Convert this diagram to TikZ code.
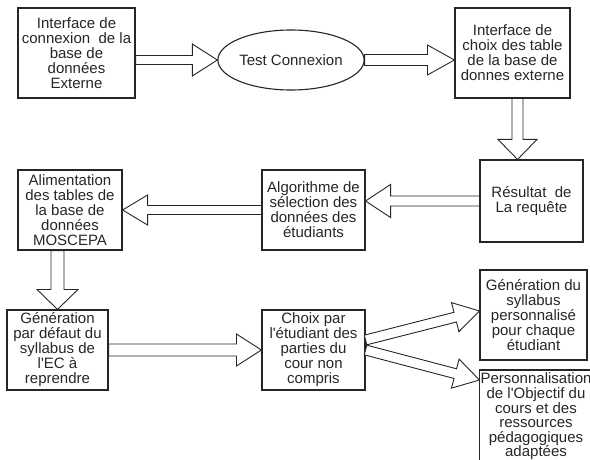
\documentclass[tikz,border=0pt]{standalone}
\usepackage{fontspec}
\setmainfont{Liberation Sans}
\usetikzlibrary{shapes.geometric,calc}

\tikzset{
  stage/.style={draw=black!85, line width=1.1pt, align=center, inner sep=0pt,
    font=\fontsize{15}{15}\selectfont, text=black!85},
  oval/.style={stage, ellipse},
  hollowarrow/.style={draw=black!85, line width=0.9pt, fill=white, line join=miter},
}

% hollow block arrow: from, to, shaft half-width, head half-width, head length
\newcommand\blockarrow[5]{%
  \coordinate (ba-s) at (#1);
  \coordinate (ba-e) at (#2);
  \coordinate (ba-h) at ($(ba-e)!#5pt!(ba-s)$);
  \draw[hollowarrow]
    ($(ba-s)!#3pt!90:(ba-e)$) -- ($(ba-h)!#3pt!90:(ba-e)$) --
    ($(ba-h)!#4pt!90:(ba-e)$) -- (ba-e) --
    ($(ba-h)!#4pt!-90:(ba-e)$) -- ($(ba-h)!#3pt!-90:(ba-e)$) --
    ($(ba-s)!#3pt!-90:(ba-e)$) -- cycle;
}
\newcommand\apos{\textquotesingle}

\begin{document}
\begin{tikzpicture}[x=1pt, y=-1pt]
\useasboundingbox (0,0) rectangle (590,460);
\clip (0,0) rectangle (590,460);

% first row
\node[stage, minimum width=117pt, minimum height=90pt] (b1) at (76.5,53)
  {Interface de\\connexion\ \ de la\\base de\\données\\Externe};
\node[oval, minimum width=112pt, minimum height=60pt] (ell) at (291,60)
  {Test Connexion};
\node[stage, minimum width=115pt, minimum height=90pt] (b3) at (512.5,53)
  {Interface de\\choix des table\\de la base de\\donnes externe};

% second row
\node[stage, minimum width=103pt, minimum height=82pt] (b4) at (531.5,201)
  {Résultat\ \ de\\La requête};
\node[stage, minimum width=103pt, minimum height=80pt] (algo) at (313.5,210)
  {Algorithme de\\sélection des\\données des\\étudiants};
\node[stage, minimum width=104pt, minimum height=80pt] (alim) at (70,210)
  {Alimentation\\des tables de\\la base de\\données\\MOSCEPA};

% third row
\node[stage, minimum width=101pt, minimum height=80pt] (gen) at (57.5,350)
  {Génération\\par défaut du\\syllabus de\\l\apos EC à\\reprendre};
\node[stage, minimum width=103pt, minimum height=80pt] (choix) at (313.5,350)
  {Choix par\\l\apos étudiant des\\parties du\\cour non\\compris};
\node[stage, minimum width=107pt, minimum height=90pt] (gen2) at (533.5,315)
  {Génération du\\syllabus\\personnalisé\\pour chaque\\étudiant};
% the last box runs on below the lower edge
\node[stage, draw=none, minimum width=112pt, anchor=north,
      font=\fontsize{15}{14.6}\selectfont] (perso) at (536,372.5)
  {Personnalisation\\de l\apos Objectif du\\cours et des\\ressources\\pédagogiques\\adaptées};
\draw[black!85, line width=1.1pt] ($(perso.north west)+(0,-2.5)$) rectangle ($(perso.south east)+(0,12)$);

% connectors
\blockarrow{b1.east |- ell.west}{ell.west}{4.5}{16}{25}
\blockarrow{ell.east}{ell.east -| b3.west}{5.5}{15}{27}
\coordinate (down1) at ($(b3.south)+(5,0)$);
\blockarrow{down1}{down1 |- b4.north}{5.5}{19.5}{20}
\blockarrow{b4.west}{b4.west -| algo.east}{5}{16.5}{25}
\blockarrow{algo.west}{algo.west -| alim.east}{4.5}{15}{25}
\blockarrow{gen.north |- alim.south}{gen.north}{6.5}{20.5}{20}
\blockarrow{gen.east}{choix.west}{6}{16}{25}
\coordinate (fork1) at ($(choix.east)+(0,-10)$);
\coordinate (fork2) at ($(choix.east)+(0,0)$);
\coordinate (in1) at ($(gen2.west)+(0,-4)$);
\coordinate (in2) at ($(perso.north west)+(0,7.5)$);
\blockarrow{fork1}{in1}{5}{15}{25}
\blockarrow{fork2}{in2}{5}{15}{25}
\end{tikzpicture}
\end{document}
